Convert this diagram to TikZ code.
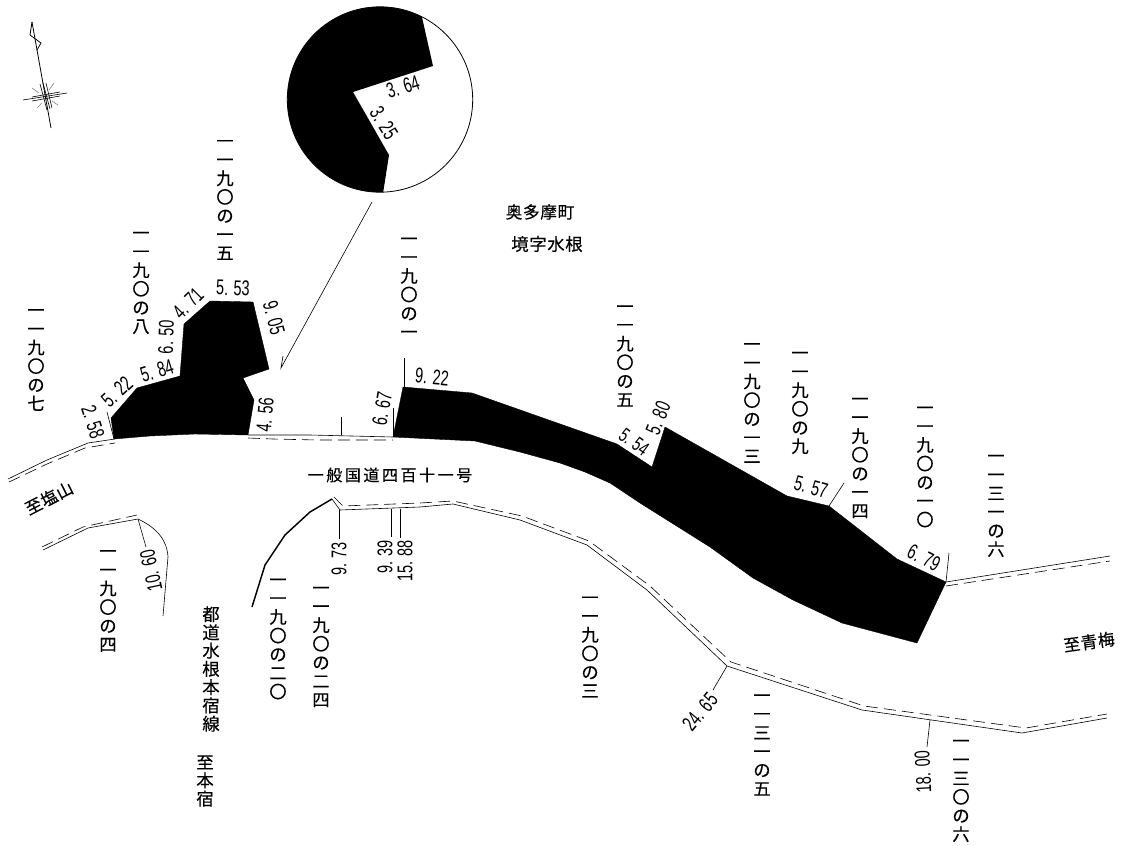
\documentclass[tikz,border=0pt]{standalone}
\usepackage{fontspec}
\newfontfamily\cjkf[FakeBold=0.3]{Noto Sans CJK JP}
\newfontfamily\cjks[LetterSpace=4,FakeBold=0.3]{Noto Sans CJK JP}
\newfontfamily\cjkw[LetterSpace=16,FakeBold=0.3]{Noto Sans CJK JP}
\newfontfamily\numf[FakeStretch=0.68]{Liberation Sans}
\tikzset{
  x=.75pt,y=-.75pt,
  thinline/.style={line width=.45pt,black},
  leader/.style={line width=.45pt,black},
  dashroad/.style={line width=.45pt,black,dash pattern=on 9pt off 4.5pt},
  plot/.style={fill=black,draw=black,line width=.3pt},
  vlabel/.style={inner sep=0,align=center,font=\cjkf\fontsize{13}{14}\selectfont},
  vsmall/.style={inner sep=0,align=center,font=\cjkf\fontsize{13}{13.7}\selectfont},
  hlabel/.style={inner sep=0,font=\cjks\fontsize{12.5}{14}\selectfont},
  hwide/.style={inner sep=0,font=\cjkw\fontsize{12}{14}\selectfont},
  num/.style={inner sep=0,font=\numf\fontsize{16}{17}\selectfont},
}
\begin{document}
\begin{tikzpicture}
\useasboundingbox (0,0) rectangle (1122,846);
% compass
\draw[thinline,line width=.6pt] (32,22) -- (51,128);
\draw[thinline,line width=.6pt] (32,22) -- (30,35) -- (41,43) -- (37,50);
\draw[thinline] (23,100) -- (67,93);
\draw[thinline] (32,97) -- (60,92);
\draw[thinline] (32,101) -- (60,96);
\draw[thinline] (40,84) -- (47,110);
\draw[thinline] (43,83) -- (50,109);
\draw[thinline] (46,83) -- (52,108);
\draw[thinline,gray] (32,88) -- (39,93);
\draw[thinline,gray] (54,83) -- (49,90);
\draw[thinline,gray] (37,108) -- (42,103);
\draw[thinline,gray] (58,105) -- (52,101);
% inset circle
\begin{scope}
\clip (380,99.5) circle (92.7);
\fill[black] (417,-5) -- (433,66) -- (353,92) -- (389,155) -- (382,200) -- (270,200) -- (270,-5) -- cycle;
\end{scope}
\draw[thinline,line width=.6pt] (380,99.5) circle (92.7);
\coordinate (arrowfrom) at (372,202);
\coordinate (arrowto) at (281,368);
\coordinate (arrowbarb) at (283,356);
\draw[thinline] (arrowfrom) -- (arrowto) -- (arrowbarb);
% plots
\draw[plot] (111,418) -- (137,388) -- (180,376) -- (184,324) -- (210,301) -- (253,302) -- (269,369) -- (243,378) -- (254,400) -- (248,435) -- (195,434) -- (150,436) -- (114,439) -- cycle;
\draw[plot] (393,437) -- (403,387) -- (472,393) -- (617,444) -- (652,467) -- (665,427) -- (787,496) -- (829,506) -- (897,559) -- (946,582) -- (917,643) -- (842,623) -- (793,600) -- (753,578) -- (710,547) -- (640,503) -- (610,483) -- (585,472) -- (560,463) -- (520,452) -- (475,441) -- cycle;
% roads
\draw[thinline] (8,479) -- (47,460) -- (88,443) -- (115,439);
\draw[dashroad] (9,482) -- (47,464) -- (85,448) -- (115,443);
\draw[thinline] (248,435) -- (310,435) -- (393,437);
\draw[dashroad] (248,438) -- (273,439) -- (317,440) -- (393,440);
\draw[thinline] (43,550) -- (88,528) -- (138,519) .. controls (157,528) and (167,540) .. (168,557) -- (163,616);
\draw[dashroad] (42,547) -- (83,527) -- (137,515);
\draw[black,line width=1.1pt] (252,607) -- (265,565) -- (285,535) -- (310,512) -- (332,499);
\draw[thinline] (332,499) -- (340,510) -- (420,507) -- (453,504) -- (520,520) -- (587,545) -- (647,590) -- (727,666) -- (862,710) -- (1022,733) -- (1107,718);
\draw[dashroad] (334,497) -- (343,506) -- (420,503) -- (453,501) -- (522,516) -- (589,541) -- (650,586) -- (731,662) -- (864,706) -- (1026,728) -- (1107,714);
\draw[thinline] (946,582) -- (1110,556);
\draw[dashroad] (946,586) -- (1110,561);
% leaders
\draw[leader] (107,412) -- (114,439);
\draw[leader] (341,417) -- (341,435);
\draw[leader] (393,408) -- (393,437);
\draw[leader] (404,358) -- (404,387);
\draw[leader] (138,519) -- (146,547);
\draw[leader] (339,510) -- (339,539);
\draw[leader] (391,509) -- (391,537);
\draw[leader] (400,509) -- (400,538);
\draw[leader] (829,506) -- (844,483);
\draw[leader] (946,582) -- (949,553);
\draw[leader] (727,666) -- (713,690);
\draw[leader] (930,720) -- (927,747);
% numbers
\node[num,rotate=-72] (n258) at (93,422) {2. 58};
\node[num,rotate=43] (n522) at (117,392) {5. 22};
\node[num,rotate=17] (n584) at (157,371) {5. 84};
\node[num,rotate=88] (n650) at (166,337) {6. 50};
\node[num,rotate=45] (n471) at (188,303) {4. 71};
\node[num,rotate=-2] (n553) at (233,288) {5. 53};
\node[num,rotate=-75] (n905) at (274,318) {9. 05};
\node[num,rotate=85] (n456) at (265,415) {4. 56};
\node[num,rotate=80] (n667) at (382,409) {6. 67};
\node[num,rotate=-5] (n922) at (432,377) {9. 22};
\node[num,rotate=-36,font=\numf\fontsize{15}{16}\selectfont] (n554) at (634,442) {5. 54};
\node[num,rotate=68] (n580) at (658,418) {5. 80};
\node[num,rotate=-15] (n557) at (811,487) {5. 57};
\node[num,rotate=-27] (n679) at (924,558) {6. 79};
\node[num,rotate=17] (n364) at (403,87) {3. 64};
\node[num,rotate=-58] (n325) at (384,123) {3. 25};
\node[num,rotate=90] (n973) at (339,559) {9. 73};
\node[num,rotate=90] (n939) at (385,557) {9. 39};
\node[num,rotate=90] (n1588) at (405,561) {15. 88};
\node[num,rotate=50] (n2465) at (700,712) {24. 65};
\node[num,rotate=93] (n1800) at (923,772) {18. 00};
\node[num,rotate=102] (n1060) at (151,571) {10. 60};
% lot labels
\node[vlabel] (a7) at (36,360) {一\\一\\九\\〇\\の\\七};
\node[vlabel] (a8) at (141,283) {一\\一\\九\\〇\\の\\八};
\node[vlabel] (a15) at (225,200) {一\\一\\九\\〇\\の\\一\\五};
\node[vlabel] (a1) at (409,288) {一\\一\\九\\〇\\の\\一};
\node[vlabel] (a5) at (625,356) {一\\一\\九\\〇\\の\\五};
\node[vlabel] (a13) at (752,403) {一\\一\\九\\〇\\の\\一\\三};
\node[vlabel] (a9) at (800,403) {一\\一\\九\\〇\\の\\九};
\node[vlabel] (a14) at (860,458) {一\\一\\九\\〇\\の\\一\\四};
\node[vlabel] (a10) at (925,467) {一\\一\\九\\〇\\の\\一\\〇};
\node[vlabel] (b6) at (996,506) {一\\一\\三\\一\\の\\六};
\node[vlabel] (a4) at (108,601) {一\\一\\九\\〇\\の\\四};
\node[vlabel] (a20) at (278,639) {一\\一\\九\\〇\\の\\二\\〇};
\node[vlabel] (a24) at (321,647) {一\\一\\九\\〇\\の\\二\\四};
\node[vlabel] (a3) at (590,647) {一\\一\\九\\〇\\の\\三};
\node[vlabel] (b5) at (762,745) {一\\一\\三\\一\\の\\五};
\node[vlabel] (c6) at (961,791) {一\\一\\三\\〇\\の\\六};
% place names
\node[vsmall] (pref) at (211,669) {都\\道\\水\\根\\本\\宿\\線};
\node[vsmall] (hon) at (205,781) {至\\本\\宿};
\node[hlabel] (town) at (540,212) {奥多摩町};
\node[hwide,font=\cjks\fontsize{13}{14}\selectfont] (aza) at (547,244) {境字水根};
\node[hwide] (route) at (390,475) {一般国道四百十一号};
\node[hlabel,rotate=27] (shio) at (49,498) {至塩山};
\node[hlabel,rotate=8] (ome) at (1089,642) {至青梅};
\end{tikzpicture}
\end{document}
